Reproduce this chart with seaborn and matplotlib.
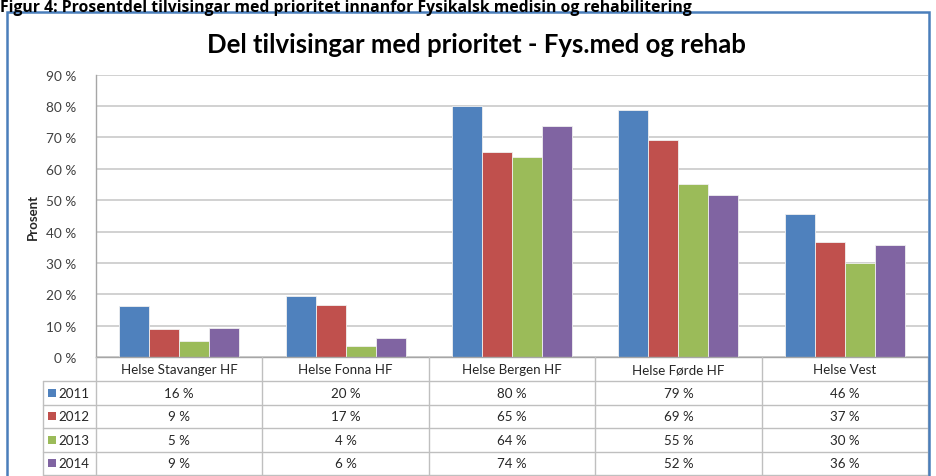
import numpy as np
import pandas as pd
import matplotlib
matplotlib.use("Agg")
import matplotlib.pyplot as plt
import seaborn as sns
from matplotlib.patches import Rectangle

categories = ["Helse Stavanger HF", "Helse Fonna HF", "Helse Bergen HF", "Helse Førde HF", "Helse Vest"]
years = ["2011", "2012", "2013", "2014"]
v2011 = [16.3, 19.6, 80.0, 78.6, 45.7]
v2012 = [9.0, 16.6, 65.4, 69.3, 36.6]
v2013 = [5.0, 3.6, 63.8, 55.0, 30.0]
v2014 = [9.4, 5.9, 73.6, 51.6, 35.6]
yticks = [0, 10, 20, 30, 40, 50, 60, 70, 80, 90]
colors = ["#4F81BD", "#C0504D", "#9BBB59", "#8064A2"]
title = "Del tilvisingar med prioritet - Fys.med og rehab"
caption = "Figur 4: Prosentdel tilvisingar med prioritet innanfor Fysikalsk medisin og rehabilitering"

series = [v2011, v2012, v2013, v2014]
df = pd.DataFrame({
    "kat": categories * len(years),
    "aar": sum([[y] * len(categories) for y in years], []),
    "verdi": sum(series, []),
})

sns.set_theme(style="white")
plt.rcParams["font.family"] = ["Lato", "DejaVu Sans"]

W, H = 936, 477
fig = plt.figure(figsize=(W / 100, H / 100), dpi=100)

def px_axes(x0, y0, x1, y1):
    return fig.add_axes([x0 / W, 1 - y1 / H, (x1 - x0) / W, (y1 - y0) / H])

# outer chart frame
fig.patches.append(Rectangle((7.5 / W, -0.1), (929 - 7.5) / W, 1 - 12.5 / H + 0.1,
                             transform=fig.transFigure, fill=False,
                             edgecolor="#4A7EBB", linewidth=1.8))
fig.text(0.0, 1 - 11.5 / H, caption, fontsize=11.3, fontweight="bold",
         family=["Open Sans", "DejaVu Sans"],
         ha="left", va="baseline", color="black")
fig.text(476 / W, 1 - 45 / H, title, fontsize=18.5, fontweight="bold",
         ha="center", va="center", color="black")

# main chart
ax = px_axes(96, 75.7, 928, 358)
sns.barplot(data=df, x="kat", y="verdi", hue="aar", palette=colors,
            width=0.72, gap=0, ax=ax, legend=False,
            edgecolor="#f0f0f0", linewidth=0.6, saturation=1)
ax.set_xlim(-0.5, len(categories) - 0.5)
ax.set_ylim(0, 90)
ax.set_yticks(yticks)
ax.set_yticklabels([f"{t} %" for t in yticks], fontsize=9.8, color="#404040")
ax.tick_params(axis="y", length=0, pad=14)
ax.set_xticks([])
ax.set_xlabel("")
ax.set_ylabel("Prosent", fontsize=9.5, fontweight="bold", labelpad=5)
ax.grid(axis="y", color="#CACACA", linewidth=1.2)
ax.set_axisbelow(True)
for s in ["top", "right"]:
    ax.spines[s].set_visible(False)
for s in ["left", "bottom"]:
    ax.spines[s].set_color("#A6A6A6")
    ax.spines[s].set_linewidth(1.0)

# data table
tax = px_axes(43, 358, 928, 477)
left_lim = -0.5 - (96 - 43) / 166.4
tax.set_xlim(left_lim, len(categories) - 0.5)
tax.set_ylim(119, 0)
tax.axis("off")
lc = "#BFBFBF"
hdr = 24
rh = 23.5
row_edges = [hdr + i * rh for i in range(len(years) + 1)]
for y in row_edges:
    tax.plot([left_lim, len(categories) - 0.5], [y, y], color=lc, lw=1.0, clip_on=False)
for i in range(len(categories) + 1):
    tax.plot([i - 0.5, i - 0.5], [0, row_edges[-1]], color=lc, lw=1.0, clip_on=False)
tax.plot([left_lim, left_lim], [hdr, row_edges[-1]], color=lc, lw=1.0, clip_on=False)
fs = 9.6
tc = "#262626"
for i, c in enumerate(categories):
    tax.text(i, hdr / 2 + 0.5, c, ha="center", va="center", fontsize=fs, color=tc)
for r, (yr, vals, col) in enumerate(zip(years, series, colors)):
    yc = hdr + r * rh + rh / 2
    tax.scatter([left_lim + 0.053], [yc], marker="s", s=34, color=col, clip_on=False, linewidths=0)
    tax.text(left_lim + 0.092, yc, yr, ha="left", va="center", fontsize=fs, color=tc)
    for i, v in enumerate(vals):
        tax.text(i, yc, f"{v:.0f} %", ha="center", va="center", fontsize=fs, color=tc)

fig.savefig("out.png", dpi=100)
